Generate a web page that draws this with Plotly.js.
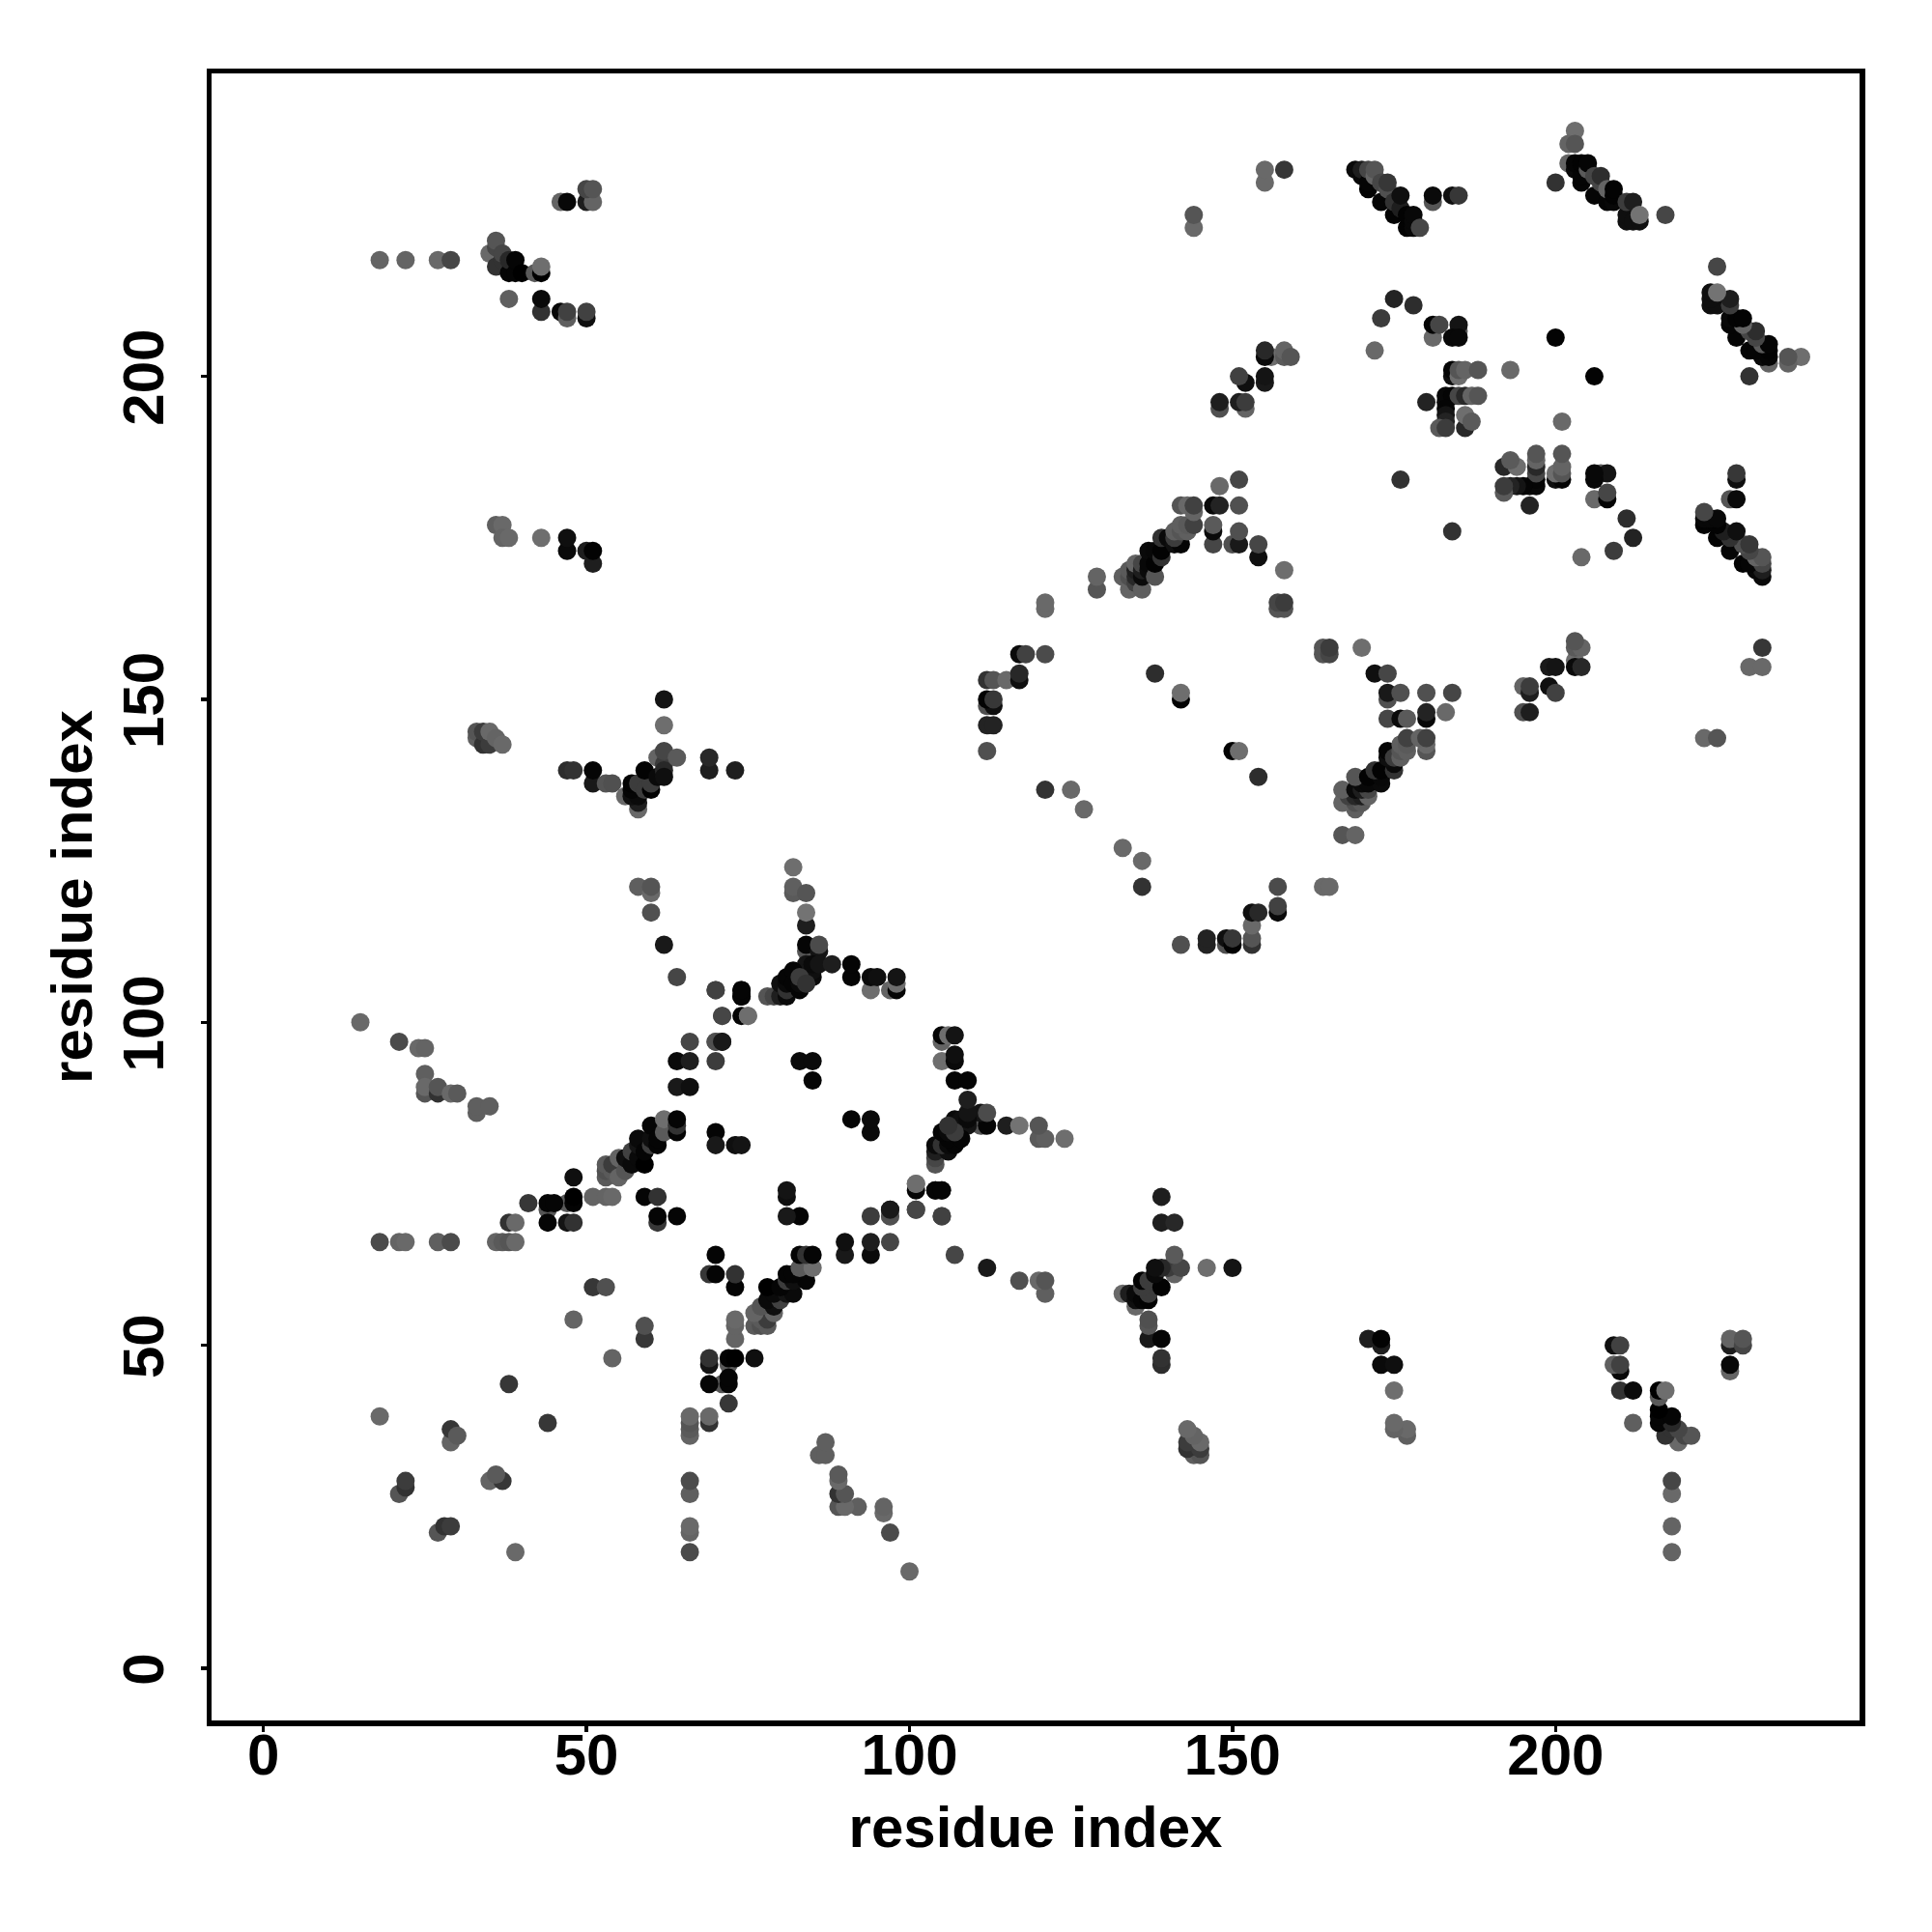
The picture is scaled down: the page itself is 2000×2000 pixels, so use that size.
<!DOCTYPE html>
<html><head><meta charset="utf-8">
<script src="https://cdn.plot.ly/plotly-3.0.1.min.js"></script>
<style>html,body{margin:0;padding:0;background:#fff}</style></head>
<body><div id="chart" style="width:2000px;height:2000px"></div>
<script>
// Contact map: each group holds residue i, residue j (i<j) and the grey level of the dot.
// The map is symmetric about the diagonal, so every contact appears at (i,j) and (j,i).
const g1i=[18,21,22,22,29,29,30,38,18,21,22,27,29,36,37,38,39,38,39];
const g1j=[39,27,28,29,35,37,36,44,66,66,66,66,66,66,66,66,66,69,69];
const g1s=[105,85,50,60,100,55,90,55,75,100,105,95,75,100,90,85,105,50,105];
const g2i=[15,21,24,25,25,25,25,27,27,29,30,33,33,35];
const g2j=[100,97,96,96,92,89,90,89,90,89,89,86,87,87];
const g2s=[105,75,105,100,95,85,105,50,85,105,90,95,95,95];
const g3i=[41,44,47,44,45,44,48,48,48,47,48,51,53,54,59,61,61,61,64,48,51,53];
const g3j=[72,71,72,72,72,69,72,73,76,69,69,73,73,73,73,73,69,70,70,54,59,59];
const g3s=[55,85,90,5,5,5,3,0,15,20,50,100,100,105,5,50,55,5,5,100,55,80];
const g4i=[53,53,53,54,54,55,55,56,56,57,57,58,58,58,59,59,60,60,60,61,61,62,62,64,64,64];
const g4j=[76,77,78,77,78,76,79,77,79,78,80,79,81,82,78,80,81,82,84,81,82,83,85,83,84,85];
const g4s=[90,80,90,90,60,100,100,85,15,10,65,10,20,10,0,5,60,15,5,5,5,90,110,5,50,5];
const g5i=[64,66,64,66,70,66,70,71,70,70,73,74];
const g5j=[90,90,94,94,94,97,97,97,83,81,81,81];
const g5s=[25,15,10,30,60,70,80,25,5,25,15,20];
const g6i=[58,60,60,60,62,64,70,74,74,71,74,75];
const g6j=[121,120,121,117,112,107,105,104,105,101,101,101];
const g6s=[95,105,85,80,25,70,65,5,5,70,5,110];
const g7i=[82,82,82,84,84,84,84,84,86,86,84,85,85,85,86,88,78,79,80,80,81,81,81,81,82,82,83,83,83,84];
const g7j=[124,120,121,120,115,117,111,112,111,112,109,107,108,109,109,109,104,104,104,106,104,105,106,107,106,108,105,106,107,106];
const g7s=[110,90,95,85,30,115,85,5,20,75,20,10,15,10,20,30,85,70,30,15,10,50,10,5,5,5,5,10,60,50];
const g8i=[91,91,94,94,95,97,98,98,98,83,85,85];
const g8j=[107,109,105,107,107,105,105,106,107,94,94,91];
const g8s=[5,5,110,10,15,100,5,110,20,10,10,5];
const g9i=[70,71,70,71,74,75,74];
const g9j=[105,101,97,97,104,101,105];
const g9s=[65,70,80,25,5,110,5];
const g12i=[33,33,34,34,35,35,36,37];
const g12j=[144,145,143,145,143,145,144,143];
const g12s=[95,85,50,60,60,105,100,105];
const g13i=[47,48,51,51,53,54,56,58,58,57,58,57,57,58,59,60,60,59,61,61,62,62,62,62,62,62,64,69,69,73];
const g13j=[139,139,137,139,137,137,135,133,134,135,135,136,137,137,136,136,137,139,138,141,140,142,139,138,146,150,141,139,141,139];
const g13s=[45,50,25,5,85,80,105,105,30,15,10,5,3,60,60,3,60,3,10,100,60,70,40,15,110,20,90,30,40,30];
const g14i=[18,22,27,29,35,36,36,36,37,37,38,38,39,39,40,42,43,43,38,43,43,46,47,47,50,50,46,47,50,51,50,51];
const g14j=[218,218,218,218,219,217,220,221,218,219,216,218,216,218,216,216,216,217,212,210,212,210,209,210,209,210,227,227,227,227,229,229];
const g14s=[100,100,105,70,105,50,70,85,50,70,5,40,5,5,0,90,0,110,95,50,10,8,95,65,15,65,100,8,30,100,70,85];
const g15i=[36,37,37,38,43,47,47,50,51,51];
const g15j=[177,177,175,175,175,173,175,173,171,173];
const g15s=[95,105,100,105,110,10,15,30,30,3];
const g18i=[112,112,113,112,113,112,113,112,113,115,117,117,117,118,121,121,121,121,125,127,142,142,138];
const g18j=[142,146,146,149,149,150,150,153,153,153,153,154,157,157,157,164,165,136,136,133,150,151,154];
const g18s=[80,35,35,80,15,3,55,50,85,105,15,40,10,65,75,105,105,50,105,105,3,110,45];
const g20i=[129,129,133,134,134,134,135,135,135,135,136,136,136,136,137,137,137,138,138,138,139,139,139,140,141,142];
const g20j=[167,169,169,167,169,170,168,169,170,171,167,169,170,171,170,171,173,169,171,173,172,173,175,175,174,174];
const g20s=[85,100,95,100,80,90,65,40,30,100,95,10,30,70,10,8,10,85,3,8,50,3,50,10,15,5];
const g21i=[141,141,142,143,142,143,144,142,143,144,144,147,147,147,147,148,148,150,151,151,151,151,154,154,158,157,158,157,158];
const g21j=[175,176,176,176,177,177,177,180,180,179,180,174,176,177,180,180,183,174,174,176,180,184,172,174,170,164,164,165,165];
const g21s=[60,95,85,95,95,90,65,85,105,100,65,70,10,90,8,35,105,80,25,80,80,70,15,70,110,85,85,70,60];
const g22i=[148,148,152,151,152,152,151,155,155,156,155,155,158,158,159];
const g22j=[195,196,195,196,196,199,200,199,200,203,203,204,203,204,203];
const g22s=[80,30,100,30,60,15,65,25,20,110,10,40,90,100,85];
const g24i=[172,173,175,178,181,181,182,185,185,184,185,176,184,184,185,185,186,188,193,180,183,183,184,185,186,187,188,183,183,183,182,183,186,186,187,200];
const g24j=[204,209,212,211,206,208,208,207,208,206,206,184,200,201,200,201,201,201,201,196,196,197,197,197,197,197,197,195,194,193,192,192,192,194,193,206];
const g24s=[105,60,35,45,105,5,70,90,20,8,8,50,15,5,110,85,100,85,105,35,15,8,5,70,40,100,85,5,20,35,90,60,40,110,90,3];
const g26i=[200,202,203,202,203,203,203,204,204,204,205,205,206,206,207,207,208,208,209,209,209,211,211,211,212,212,213,213,217];
const g26j=[230,233,238,236,236,232,233,230,231,233,232,233,228,231,230,231,227,229,227,228,229,224,225,227,224,227,224,225,225];
const g26s=[50,100,110,100,85,10,5,5,5,3,90,5,5,70,70,45,5,100,8,3,3,15,15,60,15,30,15,115,70];
const g27i=[169,170,170,171,171,171,172,172,173,173,174,174,175,175,176,176,177,177,178,178,178,179,181,181,184,185,144,144,155,155,158];
const g27j=[232,231,232,229,230,232,231,232,227,230,229,230,225,227,226,228,223,225,223,224,225,223,227,228,228,228,223,225,230,232,232];
const g27s=[10,8,30,3,5,70,100,85,5,70,80,55,3,50,30,15,3,3,8,8,8,70,85,10,15,55,105,85,105,105,55];
const tickValues=[0,50,100,150,200];
const axisLabel='residue index';

const groups=[[g1i,g1j,g1s],[g2i,g2j,g2s],[g3i,g3j,g3s],[g4i,g4j,g4s],[g5i,g5j,g5s],[g6i,g6j,g6s],
 [g7i,g7j,g7s],[g8i,g8j,g8s],[g9i,g9j,g9s],[g12i,g12j,g12s],[g13i,g13j,g13s],[g14i,g14j,g14s],
 [g15i,g15j,g15s],[g18i,g18j,g18s],[g20i,g20j,g20s],[g21i,g21j,g21s],[g22i,g22j,g22s],[g24i,g24j,g24s],
 [g26i,g26j,g26s],[g27i,g27j,g27s]];
const xs=[],ys=[],cs=[];
for(const [a,b,s] of groups){
  for(let k=0;k<a.length;k++){ xs.push(a[k]); ys.push(b[k]); cs.push(`rgb(${s[k]},${s[k]},${s[k]})`); }
  for(let k=0;k<a.length;k++){ xs.push(b[k]); ys.push(a[k]); cs.push(`rgb(${s[k]},${s[k]},${s[k]})`); }
}
const F='"Liberation Sans", Arial, Helvetica, sans-serif';
const axisCommon={
  showgrid:false,zeroline:false,showline:true,mirror:true,linecolor:'#000',linewidth:5.5,
  ticks:'outside',ticklen:6,tickwidth:3.5,tickcolor:'#000',
  tickvals:tickValues,ticktext:tickValues.map(String),
  tickfont:{family:F,size:60,color:'#000',weight:700},automargin:false
};
Plotly.newPlot('chart',[{type:'scatter',mode:'markers',x:xs,y:ys,
  marker:{size:19,color:cs,line:{width:0},opacity:1},hoverinfo:'skip'}],{
  width:2000,height:2000,paper_bgcolor:'#fff',plot_bgcolor:'#fff',showlegend:false,
  margin:{l:219,r:74.5,t:75.5,b:219,pad:0},
  xaxis:Object.assign({},axisCommon,{range:[-8.03,247.05],tickangle:0,ticklabelstandoff:-28,
    title:{text:axisLabel,font:{family:F,size:60,color:'#000',weight:700},standoff:23}}),
  yaxis:Object.assign({},axisCommon,{range:[-8.07,246.9],tickangle:-90,ticklabelstandoff:15,ticklabelshift:10,
    title:{text:axisLabel,font:{family:F,size:60,color:'#000',weight:700},standoff:1}})
},{staticPlot:true,displayModeBar:false});
</script></body></html>
